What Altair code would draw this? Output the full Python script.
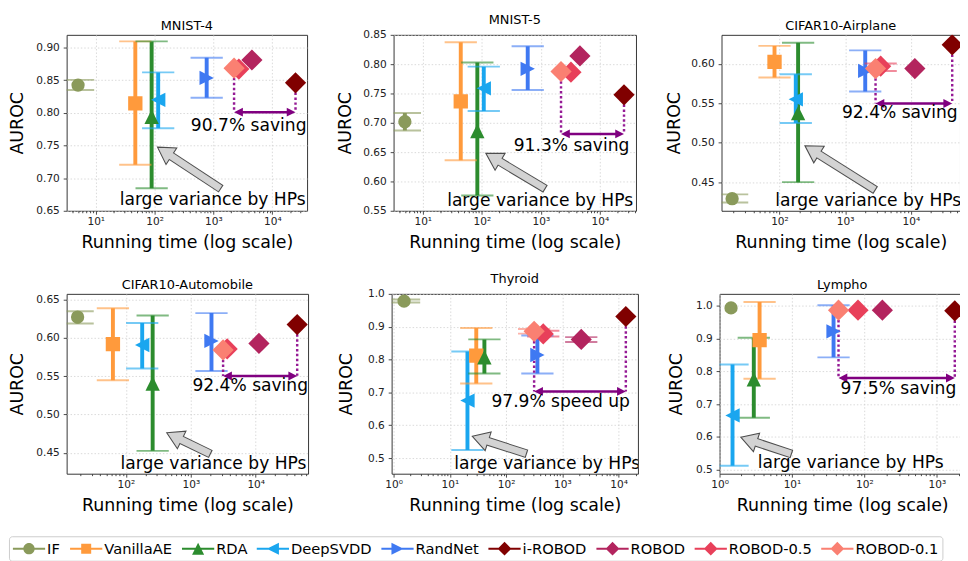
import math
import altair as alt
import pandas as pd

FONT = "DejaVu Sans"

# ---------------- data ----------------
methods = ["IF", "VanillaAE", "RDA", "DeepSVDD", "RandNet", "i-ROBOD", "ROBOD", "ROBOD-0.5", "ROBOD-0.1"]
colors = ["#8a9a5b", "#ff9a3c", "#2c8c2e", "#1aa6ef", "#3f79f2", "#800000", "#b3245e", "#e8405a", "#fa8072"]

panel_titles = ["MNIST-4", "MNIST-5", "CIFAR10-Airplane", "CIFAR10-Automobile", "Thyroid", "Lympho"]

# running time (x) per method, in method order
mnist4_time = [5.0, 47, 89, 115, 767, 24800, 4500, 2700, 2240]
mnist5_time = [4.97, 44, 84, 108, 600, 25700, 4600, 3240, 2200]
airplane_time = [19, 84, 192, 177, 2020, 42600, 11500, 3470, 2900]
automobile_time = [18, 63, 258, 178, 2080, 43500, 11200, 3630, 3140]
thyroid_time = [1.53, 29.4, 41, 20.5, 359, 13400, 2160, 456, 314]
lympho_time = [1.44, 3.57, 2.97, 1.51, 37.5, 1770, 177, 81.6, 43.9]

# mean AUROC
mnist4_auroc = [0.8425, 0.8145, 0.794, 0.820, 0.8535, 0.846, 0.881, 0.867, 0.8685]
mnist5_auroc = [0.7018, 0.7366, 0.686, 0.7588, 0.792, 0.7477, 0.814, 0.7864, 0.7875]
airplane_auroc = [0.429, 0.6025, 0.5374, 0.555, 0.591, 0.624, 0.594, 0.597, 0.594]
automobile_auroc = [0.6271, 0.5918, 0.5404, 0.5906, 0.596, 0.6173, 0.5927, 0.5855, 0.5842]
thyroid_auroc = [0.978, 0.812, 0.807, 0.675, 0.814, 0.931, 0.8614, 0.878, 0.886]
lympho_auroc = [0.994, 0.8956, 0.776, 0.666, 0.9225, 0.985, 0.987, 0.987, 0.987]

NA = float("nan")
# error bar ends (variance by hyper-parameters)
mnist4_lo = [0.835, 0.7205, 0.6845, 0.7765, 0.823, NA, NA, NA, NA]
mnist4_hi = [0.8505, 0.9095, 0.9095, 0.862, 0.8845, NA, NA, NA, NA]
mnist5_lo = [0.6868, 0.636, 0.576, 0.720, 0.756, NA, NA, NA, NA]
mnist5_hi = [0.7167, 0.8373, 0.803, 0.7958, 0.8306, NA, NA, NA, NA]
airplane_lo = [0.4243, 0.5827, 0.450, 0.525, 0.565, NA, NA, 0.591, NA]
airplane_hi = [0.4345, 0.6227, 0.6268, 0.5868, 0.617, NA, NA, 0.6004, NA]
automobile_lo = [0.6186, 0.5447, 0.4526, 0.560, 0.5566, NA, NA, NA, NA]
automobile_hi = [0.6347, 0.6385, 0.6292, 0.6194, 0.6322, NA, NA, NA, NA]
thyroid_lo = [0.974, 0.727, 0.7574, 0.5248, 0.7574, NA, 0.8535, 0.870, 0.879]
thyroid_hi = [0.983, 0.896, 0.8614, 0.8248, 0.873, NA, 0.8683, 0.888, 0.893]
lympho_lo = [NA, 0.778, 0.659, 0.512, 0.843, NA, NA, NA, NA]
lympho_hi = [NA, 1.012, 0.9026, 0.821, 1.002, NA, NA, NA, NA]

# "saving" annotation
saving_text = ["90.7% saving", "91.3% saving", "92.4% saving", "92.4% saving", "97.9% speed up", "97.5% saving"]
saving_arrow_y = [0.801, 0.681, 0.5497, 0.5502, 0.703, 0.780]
saving_text_x = [3970, 3315, 6780, 8220, 929, 295]
saving_text_y = [0.780, 0.660, 0.537, 0.5375, 0.669, 0.7475]

# "large variance by HPs" annotation
variance_text = "large variance by HPs"
variance_text_x = [968, 973, 2240, 2235, 535, 64.7]
variance_text_y = [0.666, 0.5663, 0.4257, 0.4347, 0.4822, 0.520]
variance_tip_x = [112, 117, 244, 425, 25, 1.96]
variance_tip_y = [0.7475, 0.6481, 0.4962, 0.4763, 0.5664, 0.5994]
variance_tail_x = [1350, 1200, 2910, 2030, 234, 9.97]
variance_tail_y = [0.6835, 0.5873, 0.4397, 0.4483, 0.513, 0.5477]

times = [mnist4_time, mnist5_time, airplane_time, automobile_time, thyroid_time, lympho_time]
aurocs = [mnist4_auroc, mnist5_auroc, airplane_auroc, automobile_auroc, thyroid_auroc, lympho_auroc]
los = [mnist4_lo, mnist5_lo, airplane_lo, automobile_lo, thyroid_lo, lympho_lo]
his = [mnist4_hi, mnist5_hi, airplane_hi, automobile_hi, thyroid_hi, lympho_hi]

# ---------------- layout / style ----------------
widths = [246, 248, 244, 247, 252, 251]
heights = [180, 180, 180, 184, 184, 184]
xdoms = [[3.2, 3.9e4], [3.2, 4.1e4], [13.1, 5.6e4], [12.2, 6.4e4], [0.92, 2.2e4], [1.0, 2440]]
ydoms = [[0.65, 0.9195], [0.55, 0.85], [0.4137, 0.6367], [0.4228, 0.6573], [0.4525, 1.0], [0.488, 1.0368]]
yticks = [
    [0.65, 0.70, 0.75, 0.80, 0.85, 0.90],
    [0.55, 0.60, 0.65, 0.70, 0.75, 0.80, 0.85],
    [0.45, 0.50, 0.55, 0.60],
    [0.45, 0.50, 0.55, 0.60, 0.65],
    [0.5, 0.6, 0.7, 0.8, 0.9, 1.0],
    [0.5, 0.6, 0.7, 0.8, 0.9, 1.0],
]
yfmt = [".2f", ".2f", ".2f", ".2f", ".1f", ".1f"]
ytitle_pad = [9.5, 8.5, 7, 9.5, 12, 10.5]

shapes = ["circle", "square", "M0,-1L1,1L-1,1Z", "M-1,0L1,-1L1,1Z", "M1,0L-1,-1L-1,1Z",
          "diamond", "diamond", "diamond", "diamond"]
msizes = [185, 215, 215, 215, 215, 470, 470, 470, 470]

LINE = "M-2,-0.12H2V0.12H-2Z"
legend_paths = [
    LINE + "M0.7,0A0.7,0.7 0 1 1 -0.7,0A0.7,0.7 0 1 1 0.7,0Z",
    LINE + "M-0.62,-0.62H0.62V0.62H-0.62Z",
    LINE + "M0,-0.75L0.75,0.75L-0.75,0.75Z",
    LINE + "M-0.75,0L0.75,-0.75L0.75,0.75Z",
    LINE + "M0.75,0L-0.75,0.75L-0.75,-0.75Z",
    LINE + "M0,-0.85L0.85,0L0,0.85L-0.85,0Z",
    LINE + "M0,-0.85L0.85,0L0,0.85L-0.85,0Z",
    LINE + "M0,-0.85L0.85,0L0,0.85L-0.85,0Z",
    LINE + "M0,-0.85L0.85,0L0,0.85L-0.85,0Z",
]

PURPLE = "#800080"
DOT_PURPLE = "#951a95"
HEAD_LEN = 17
ANNOT_SIZE = 17.5

MAJOR = "abs(log(datum.value)/LN10 - round(log(datum.value)/LN10)) < 0.001"
EXPO = "round(log(datum.value)/LN10)"
LABEL_EXPR = (f"({MAJOR}) ? ({EXPO} == 0 ? '10⁰' : {EXPO} == 1 ? '10¹' : {EXPO} == 2 ? '10²' : "
              f"{EXPO} == 3 ? '10³' : {EXPO} == 4 ? '10⁴' : '10⁵') : ''")


def x_tick_values(dom):
    vals = []
    for k in range(-1, 6):
        for m in range(1, 10):
            v = m * 10.0 ** k
            if dom[0] <= v <= dom[1]:
                vals.append(v)
    return vals


def panel(i):
    xs = alt.Scale(type="log", domain=xdoms[i], nice=False)
    ys = alt.Scale(domain=ydoms[i], nice=False, zero=False)
    xax = alt.Axis(values=x_tick_values(xdoms[i]), labelExpr=LABEL_EXPR, title="Running time (log scale)",
                   tickSize={"condition": {"test": MAJOR, "value": 3.5}, "value": 2},
                   gridOpacity={"condition": {"test": MAJOR, "value": 1}, "value": 0},
                   labelFlush=False, labelOverlap=False, labelPadding=2, titlePadding=7, grid=True)
    yax = alt.Axis(values=yticks[i], format=yfmt[i], title="AUROC", titlePadding=ytitle_pad[i],
                   tickSize=3.5, labelPadding=4, grid=True)

    def X(f):
        return alt.X(f, type="quantitative", scale=xs, axis=xax)

    def Y(f):
        return alt.Y(f, type="quantitative", scale=ys, axis=yax)

    df = pd.DataFrame({"method": methods, "time": times[i], "auroc": aurocs[i], "lo": los[i], "hi": his[i],
                       "mcolor": colors, "mshape": shapes, "msize": msizes})
    base = alt.Chart(df)
    col = alt.Color("mcolor:N", scale=None)
    with_err = base.transform_filter("isValid(datum.lo)")

    bars = with_err.mark_rule(strokeWidth=4, clip=True).encode(x=X("time"), y=Y("lo"), y2="hi:Q", color=col)
    cap_lo = with_err.mark_tick(orient="horizontal", size=33, thickness=2, opacity=0.6, clip=True).encode(
        x=X("time"), y=Y("lo"), color=col)
    cap_hi = with_err.mark_tick(orient="horizontal", size=33, thickness=2, opacity=0.6, clip=True).encode(
        x=X("time"), y=Y("hi"), color=col)
    pts = base.mark_point(filled=True, opacity=1, clip=True, strokeWidth=0).encode(
        x=X("time"), y=Y("auroc"), color=col, shape=alt.Shape("mshape:N", scale=None),
        size=alt.Size("msize:Q", scale=None))

    # saving annotation: from ROBOD-0.1 to i-ROBOD
    i01 = methods.index("ROBOD-0.1")
    iir = methods.index("i-ROBOD")
    dot_df = pd.DataFrame({"x": [times[i][i01], times[i][iir]], "y1": [aurocs[i][i01], aurocs[i][iir]],
                           "y2": [saving_arrow_y[i]] * 2})
    dots = alt.Chart(dot_df).mark_rule(color=DOT_PURPLE, strokeWidth=2.5, strokeDash=[2.5, 2.5], clip=True).encode(
        x=X("x"), y=Y("y1"), y2="y2:Q")
    arr_df = pd.DataFrame({"x1": [times[i][i01]], "x2": [times[i][iir]], "y": [saving_arrow_y[i]]})
    arr_line = alt.Chart(arr_df).mark_rule(color=PURPLE, strokeWidth=2.5, xOffset=7, x2Offset=-7, clip=True).encode(
        x=X("x1"), x2="x2:Q", y=Y("y"))
    head_l = alt.Chart(arr_df).mark_point(shape="M0,0L2,-1L2,1Z", filled=True, size=81, color=PURPLE,
                                          opacity=1, strokeWidth=0, clip=True).encode(x=X("x1"), y=Y("y"))
    head_r = alt.Chart(arr_df).mark_point(shape="M0,0L-2,1L-2,-1Z", filled=True, size=81, color=PURPLE,
                                          opacity=1, strokeWidth=0, clip=True).encode(x=X("x2"), y=Y("y"))
    sav_df = pd.DataFrame({"x": [saving_text_x[i]], "y": [saving_text_y[i]], "t": [saving_text[i]]})
    sav_txt = alt.Chart(sav_df).mark_text(font=FONT, fontSize=ANNOT_SIZE, color="#000", align="center",
                                          baseline="middle", clip=True).encode(x=X("x"), y=Y("y"), text="t:N")

    # big gray arrow
    a, b = xdoms[i]
    c, d = ydoms[i]

    def pxx(v):
        return widths[i] * (math.log10(v) - math.log10(a)) / (math.log10(b) - math.log10(a))

    def pxy(v):
        return heights[i] * (d - v) / (d - c)

    dx = pxx(variance_tip_x[i]) - pxx(variance_tail_x[i])
    dy = pxy(variance_tip_y[i]) - pxy(variance_tail_y[i])
    L = math.hypot(dx, dy)
    ux, uy = dx / L, dy / L
    ang = (math.degrees(math.atan2(ux, -uy)) + 360) % 360
    big_df = pd.DataFrame({"tx": [variance_tail_x[i]], "ty": [variance_tail_y[i]],
                           "hx": [variance_tip_x[i]], "hy": [variance_tip_y[i]]})
    big = alt.Chart(big_df)
    shaft_dark = big.mark_rule(color="#4d4d4d", strokeWidth=9, x2Offset=-ux * (HEAD_LEN - 3),
                               y2Offset=-uy * (HEAD_LEN - 3), clip=True).encode(
        x=X("tx"), y=Y("ty"), x2="hx:Q", y2="hy:Q")
    head = big.mark_point(shape="M0,0L1,1.7L-1,1.7Z", size=400, filled=True, fill="#d3d3d3",
                          stroke="#4d4d4d", strokeWidth=1.1, opacity=1, angle=ang, clip=True).encode(
        x=X("hx"), y=Y("hy"))
    shaft_light = big.mark_rule(color="#d3d3d3", strokeWidth=7, xOffset=ux * 1.1, yOffset=uy * 1.1,
                                x2Offset=-ux * (HEAD_LEN - 2), y2Offset=-uy * (HEAD_LEN - 2), clip=True).encode(
        x=X("tx"), y=Y("ty"), x2="hx:Q", y2="hy:Q")
    var_df = pd.DataFrame({"x": [variance_text_x[i]], "y": [variance_text_y[i]], "t": [variance_text]})
    var_txt = alt.Chart(var_df).mark_text(font=FONT, fontSize=ANNOT_SIZE, color="#000", align="center",
                                          baseline="middle", clip=True).encode(x=X("x"), y=Y("y"), text="t:N")

    return alt.layer(bars, cap_lo, cap_hi, dots, arr_line, head_l, head_r, pts,
                     shaft_dark, head, shaft_light, sav_txt, var_txt).properties(
        width=widths[i], height=heights[i], title=panel_titles[i])


row1 = alt.hconcat(panel(0), panel(1), panel(2), spacing=28.5)
row2 = alt.hconcat(panel(3), panel(4), panel(5), spacing=28.5)

legend_df = pd.DataFrame({"method": methods})
leg = alt.Legend(title=None, orient="none", legendX=-59, legendY=0, direction="horizontal", columns=9,
                 symbolSize=272, symbolStrokeWidth=0, symbolOffset=8, labelOffset=10, columnPadding=9.5,
                 symbolOpacity=1, padding=4, labelFont=FONT, labelFontSize=15, labelColor="#000",
                 strokeColor="#cccccc", fillColor="#ffffff", cornerRadius=3, labelLimit=300)
legend_chart = alt.Chart(legend_df).mark_point(filled=True, size=0, opacity=1).encode(
    x=alt.value(0), y=alt.value(0),
    color=alt.Color("method:N", scale=alt.Scale(domain=methods, range=colors), legend=leg),
    shape=alt.Shape("method:N", scale=alt.Scale(domain=methods, range=legend_paths), legend=leg),
).properties(width=1, height=1, view=alt.ViewBackground(strokeOpacity=0))

chart = alt.vconcat(alt.vconcat(row1, row2, spacing=20), legend_chart, spacing=21).resolve_scale(
    color="independent", shape="independent"
).properties(
    padding={"left": 0, "top": -2, "right": -6, "bottom": 0}
).configure(background="white").configure_axis(
    labelFont=FONT, labelFontSize=10.8, labelColor="#222", titleFont=FONT, titleFontSize=17.8,
    titleFontWeight="normal", titleColor="#000", tickColor="#333", tickWidth=0.9, domain=False,
    gridColor="#cfcfcf", gridDash=[1.5, 2], gridWidth=0.8
).configure_title(font=FONT, fontSize=13.2, fontWeight="normal", color="#000", offset=2, anchor="middle"
).configure_view(stroke="#333", strokeWidth=1)

chart.save("out.html", embed_options={"renderer": "svg", "actions": False})
